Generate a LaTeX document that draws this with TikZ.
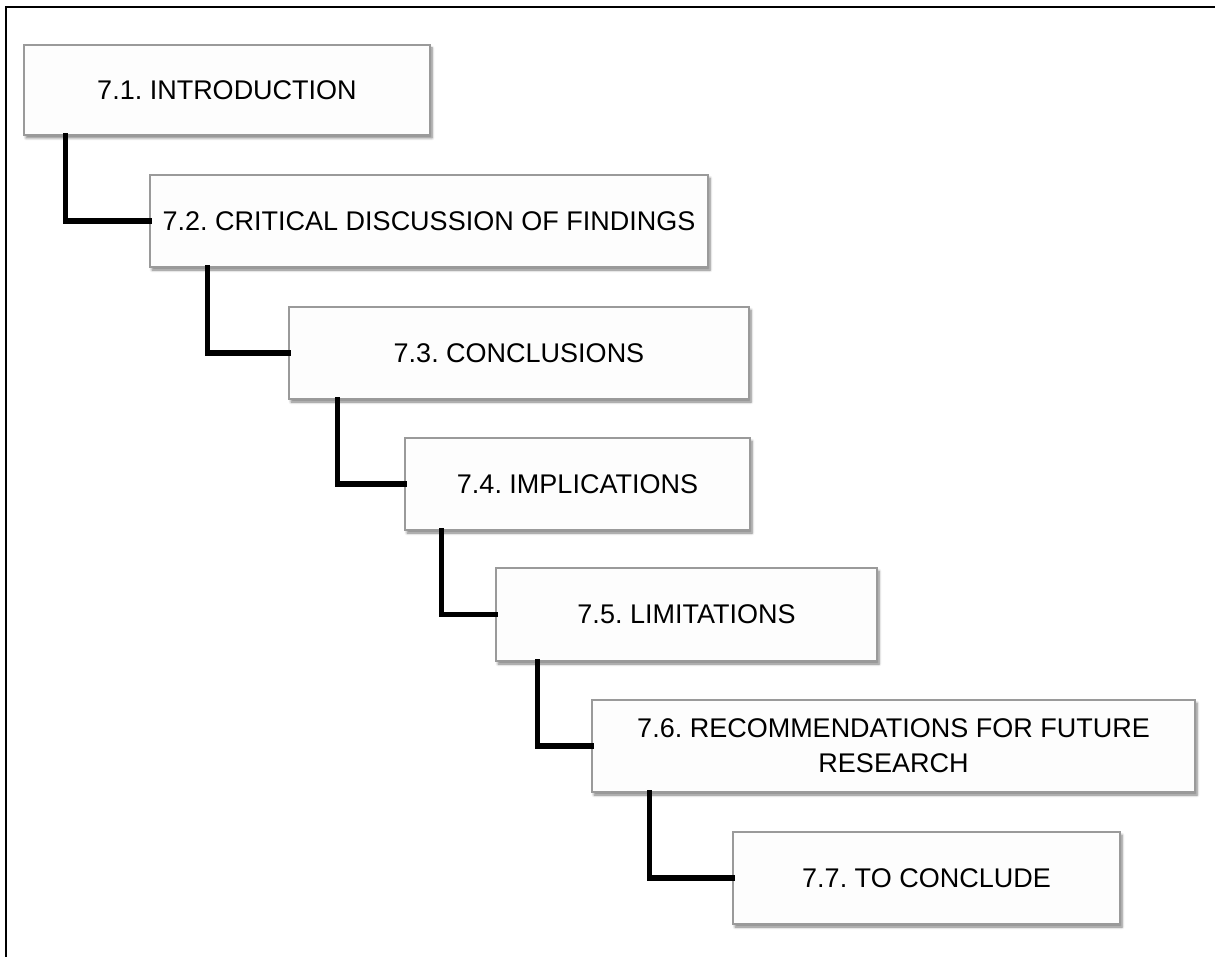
\documentclass[tikz,border=0pt]{standalone}
\usepackage{fontspec}
\setmainfont{Liberation Sans}
\usetikzlibrary{shadows.blur}
\definecolor{boxline}{HTML}{9A9A9A}
\definecolor{boxfill}{HTML}{FDFDFD}
\tikzset{
  stagebox/.style={draw=boxline, line width=1.1pt, fill=boxfill, rectangle,
    inner sep=0pt, align=center,
    font=\fontsize{27}{35}\selectfont\frenchspacing,
    blur shadow={shadow xshift=2pt, shadow yshift=-3pt, shadow blur steps=6,
      shadow blur radius=2.5pt, shadow opacity=50}},
  link/.style={line width=5.5pt, black, line cap=rect},
  frameline/.style={line width=2.2pt, black}
}
\begin{document}
\begin{tikzpicture}[x=1pt, y=-1pt]
\useasboundingbox (0,0) rectangle (1215,957);
% open frame: top and left edges only
\coordinate (ftr) at (1215,7);
\coordinate (ftl) at (6,7);
\coordinate (fbl) at (6,957);
\draw[frameline] (ftr) -- (ftl) -- (fbl);

% the seven stages
\node[stagebox, minimum width=406pt, minimum height=90pt] (s1) at (227,90) {7.1. INTRODUCTION};
\node[stagebox, minimum width=558pt, minimum height=92pt] (s2) at (429,221) {7.2. CRITICAL DISCUSSION OF FINDINGS};
\node[stagebox, minimum width=460pt, minimum height=92pt] (s3) at (519,353) {7.3. CONCLUSIONS};
\node[stagebox, minimum width=345pt, minimum height=92pt] (s4) at (577.5,484) {7.4. IMPLICATIONS};
\node[stagebox, minimum width=381pt, minimum height=93pt] (s5) at (686.5,614.5) {7.5. LIMITATIONS};
\node[stagebox, minimum width=603pt, minimum height=92pt] (s6) at (893.5,746) {7.6. RECOMMENDATIONS FOR FUTURE\\RESEARCH};
\node[stagebox, minimum width=387pt, minimum height=92pt] (s7) at (926.5,878) {7.7. TO CONCLUDE};

% elbow connectors between consecutive stages
\draw[link] ([xshift=42pt]s1.south west) |- (s2.west);
\draw[link] ([xshift=58pt]s2.south west) |- (s3.west);
\draw[link] ([xshift=49pt]s3.south west) |- (s4.west);
\draw[link] ([xshift=37pt]s4.south west) |- (s5.west);
\draw[link] ([xshift=42pt]s5.south west) |- (s6.west);
\draw[link] ([xshift=58pt]s6.south west) |- (s7.west);
\end{tikzpicture}
\end{document}
